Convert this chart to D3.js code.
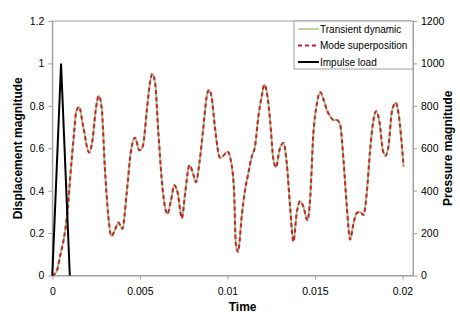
<!DOCTYPE html>
<head>
  <meta charset="utf-8">
  <script src="https://cdn.jsdelivr.net/npm/d3@7"></script>
  <style>
    body { margin: 0; background: #fff; }
    text { font-family: "Liberation Sans", Arial, sans-serif; }
  </style>
</head>
<body>
<div id="container"></div>
<script>
  const time = [0, 0.00025, 0.00044, 0.00073, 0.0009, 0.001, 0.00124, 0.00136, 0.00153, 0.00177,
    0.0021, 0.0023, 0.00248, 0.00265, 0.00282, 0.003, 0.0032, 0.00337, 0.00358, 0.00377,
    0.004, 0.00425, 0.00448, 0.00473, 0.00497, 0.00517, 0.0054, 0.00558, 0.00571, 0.00587,
    0.00606, 0.00631, 0.00657, 0.00677, 0.00697, 0.00716, 0.0074, 0.00759, 0.00783, 0.00806,
    0.0082, 0.0084, 0.00863, 0.00882, 0.00895, 0.0091, 0.0093, 0.00958, 0.00977, 0.01,
    0.01019, 0.01038, 0.01048, 0.01061, 0.01082, 0.011, 0.01119, 0.01139, 0.01158, 0.01177,
    0.01196, 0.01211, 0.01229, 0.01244, 0.01263, 0.01278, 0.01297, 0.0132, 0.01339, 0.01358,
    0.01377, 0.01396, 0.01415, 0.01434, 0.01457, 0.01472, 0.01491, 0.0151, 0.0153, 0.01549,
    0.01568, 0.01587, 0.01606, 0.01625, 0.01644, 0.01663, 0.01682, 0.01701, 0.0172, 0.01739,
    0.01758, 0.01777, 0.01796, 0.01815, 0.01834, 0.0185, 0.01869, 0.01888, 0.01903, 0.0192,
    0.0194, 0.01962, 0.01977, 0.02006];
  const transient = [0, 0.02, 0.09, 0.21, 0.33, 0.44, 0.67, 0.77, 0.795, 0.70,
    0.58, 0.64, 0.78, 0.847, 0.79, 0.51, 0.28, 0.186, 0.215, 0.25,
    0.22, 0.39, 0.58, 0.65, 0.59, 0.61, 0.78, 0.91, 0.95, 0.91,
    0.67, 0.40, 0.29, 0.35, 0.425, 0.39, 0.27, 0.39, 0.52, 0.475,
    0.44, 0.53, 0.70, 0.845, 0.875, 0.84, 0.69, 0.555, 0.565, 0.585,
    0.545, 0.40, 0.15, 0.112, 0.28, 0.40, 0.48, 0.56, 0.61, 0.75,
    0.845, 0.90, 0.845, 0.73, 0.545, 0.51, 0.59, 0.625, 0.53, 0.325,
    0.16, 0.295, 0.35, 0.325, 0.26, 0.355, 0.67, 0.805, 0.865, 0.83,
    0.78, 0.75, 0.733, 0.733, 0.71, 0.545, 0.325, 0.17, 0.245, 0.295,
    0.30, 0.285, 0.39, 0.59, 0.733, 0.775, 0.72, 0.59, 0.565, 0.61,
    0.775, 0.815, 0.765, 0.515];
  // mode superposition overlays the transient result
  const modeSup = transient.slice();
  // impulse load (pressure) triangle
  const loadTime = [0, 0.0005, 0.001];
  const loadValue = [0, 1000, 0];

  const leftTicks = [0, 0.2, 0.4, 0.6, 0.8, 1, 1.2];
  const rightTicks = [0, 200, 400, 600, 800, 1000, 1200];
  const timeTicks = [0, 0.005, 0.01, 0.015, 0.02];
  const seriesNames = ['Transient dynamic', 'Mode superposition', 'Impulse load'];

  const width = 460, height = 328;
  const plot = {left: 52.3, right: 413, top: 21, bottom: 275.5};
  const axisColor = '#a0a0a0';

  const svg = d3.select('#container').append('svg')
    .attr('width', width)
    .attr('height', height);

  const x = d3.scaleLinear().domain([0, 0.0206]).range([plot.left, plot.right]);
  const yL = d3.scaleLinear().domain([0, 1.2]).range([plot.bottom, plot.top]);
  const yR = d3.scaleLinear().domain([0, 1200]).range([plot.bottom, plot.top]);

  // plot frame
  svg.append('rect')
    .attr('x', plot.left).attr('y', plot.top)
    .attr('width', plot.right - plot.left).attr('height', plot.bottom - plot.top)
    .attr('fill', 'none').attr('stroke', axisColor);

  function styleAxis(g) {
    g.selectAll('path, line').attr('stroke', axisColor);
    g.selectAll('text').attr('fill', '#000').style('font-size', '10.5px');
  }

  svg.append('g')
    .attr('transform', `translate(0,${plot.bottom})`)
    .call(d3.axisBottom(x).tickValues(timeTicks).tickSize(4).tickPadding(8).tickSizeOuter(0)
      .tickFormat(d => d === 0 ? '0' : String(+d.toFixed(3))))
    .call(styleAxis);

  svg.append('g')
    .attr('transform', `translate(${plot.left},0)`)
    .call(d3.axisLeft(yL).tickValues(leftTicks).tickSize(4).tickPadding(4).tickSizeOuter(0)
      .tickFormat(d => String(+d.toFixed(1))))
    .call(styleAxis);

  svg.append('g')
    .attr('transform', `translate(${plot.right},0)`)
    .call(d3.axisRight(yR).tickValues(rightTicks).tickSize(4).tickPadding(4).tickSizeOuter(0)
      .tickFormat(d => String(d)))
    .call(styleAxis);

  // series
  const lineL = d3.line().x(d => x(d[0])).y(d => yL(d[1])).curve(d3.curveMonotoneX);
  const lineR = d3.line().x(d => x(d[0])).y(d => yR(d[1]));

  svg.append('path')
    .attr('d', lineL(d3.zip(time, transient)))
    .attr('fill', 'none').attr('stroke', '#a8c47c').attr('stroke-width', 2);

  svg.append('path')
    .attr('d', lineL(d3.zip(time, modeSup)))
    .attr('fill', 'none').attr('stroke', '#cc1f36').attr('stroke-width', 2)
    .attr('stroke-dasharray', '4,3');

  svg.append('path')
    .attr('d', lineR(d3.zip(loadTime, loadValue)))
    .attr('fill', 'none').attr('stroke', '#000').attr('stroke-width', 2);

  // legend
  const legend = svg.append('g').attr('transform', 'translate(294,21)');
  legend.append('rect')
    .attr('width', plot.right - 294).attr('height', 48)
    .attr('fill', '#fff').attr('stroke', axisColor);
  const styles = [
    {stroke: '#a8c47c', dash: null},
    {stroke: '#cc1f36', dash: '4,3'},
    {stroke: '#000', dash: null}
  ];
  const item = legend.selectAll('.item')
    .data(seriesNames)
    .enter().append('g')
      .attr('transform', (d, i) => `translate(0,${8 + i * 16.5})`);
  item.append('line')
    .attr('x1', 4).attr('x2', 25)
    .attr('stroke', (d, i) => styles[i].stroke)
    .attr('stroke-width', (d, i) => i === 0 ? 1.5 : 2)
    .attr('stroke-dasharray', (d, i) => styles[i].dash);
  item.append('text')
    .attr('x', 26).attr('dy', '0.35em')
    .style('font-size', '10px')
    .text(d => d);

  // axis titles
  svg.append('text')
    .attr('transform', `translate(18,${(plot.top + plot.bottom) / 2}) rotate(-90)`)
    .attr('text-anchor', 'middle').attr('dy', '0.35em')
    .style('font-size', '12px').style('font-weight', 'bold')
    .text('Displacement magnitude');

  svg.append('text')
    .attr('transform', `translate(448,${(plot.top + plot.bottom) / 2}) rotate(-90)`)
    .attr('text-anchor', 'middle').attr('dy', '0.35em')
    .style('font-size', '12px').style('font-weight', 'bold')
    .text('Pressure magnitude');

  svg.append('text')
    .attr('x', (plot.left + plot.right) / 2 + 10).attr('y', 311)
    .attr('text-anchor', 'middle')
    .style('font-size', '12px').style('font-weight', 'bold')
    .text('Time');
</script>
</body>
